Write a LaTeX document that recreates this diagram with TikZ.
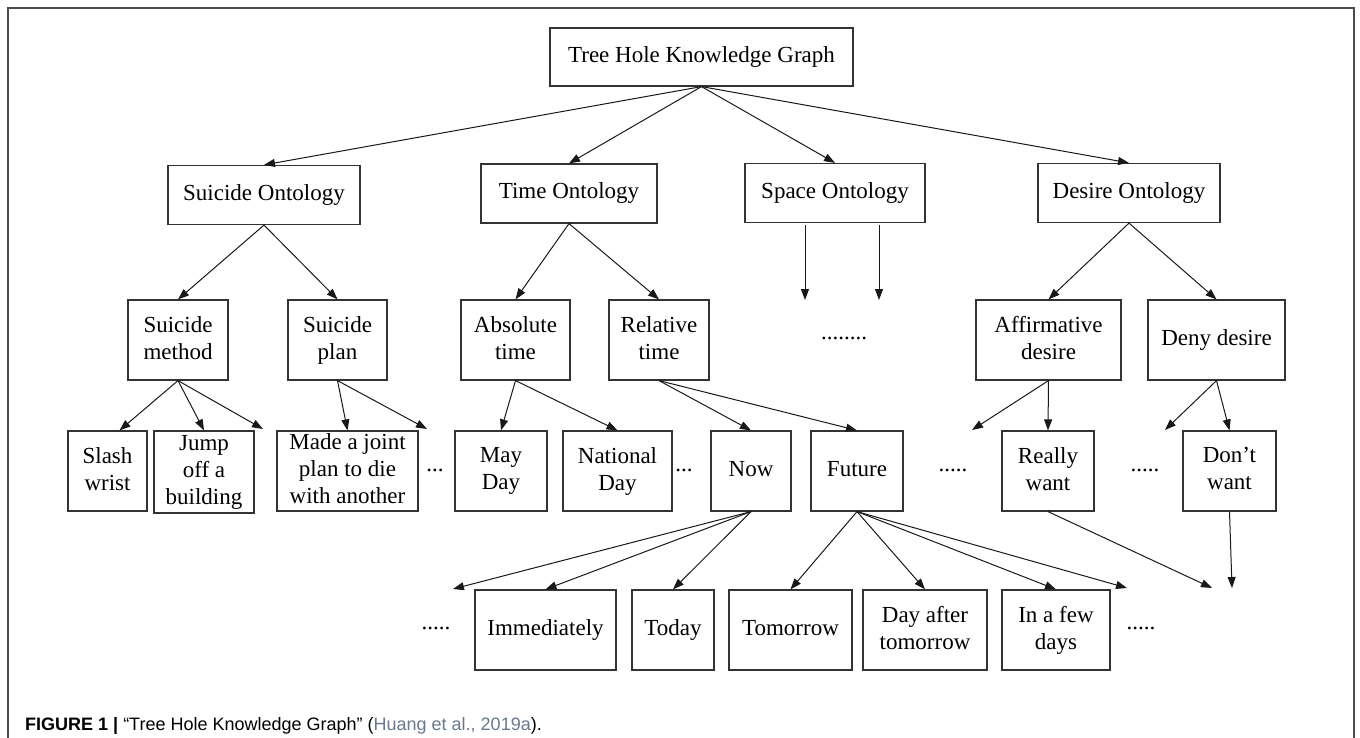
\documentclass[tikz,border=0pt]{standalone}
\usepackage{fontspec}
\setmainfont{Liberation Serif}
\newfontfamily\capfont{Liberation Sans}
\usetikzlibrary{arrows.meta}
\definecolor{capblue}{RGB}{105,120,140}
\begin{document}
\begin{tikzpicture}[x=1pt,y=-1pt,
  box/.style={draw=black!80,line width=1.2pt,align=center,inner sep=0pt,
    font=\fontsize{23}{27}\selectfont,execute at end node=\vphantom{p}},
  onto/.style={box,minimum height=59pt},
  leaf/.style={box,minimum height=80pt},
  dots/.style={inner sep=0pt,font=\fontsize{23}{27}\selectfont},
  arr/.style={draw=black!90,line width=1pt,-{Triangle[length=11pt,width=8pt]}}]
\useasboundingbox (0,0) rectangle (1360,738);
\draw[gray!60!black,line width=1.6pt] (8,745) -- (8,8) -- (1354,8) -- (1354,745);

\node[box,minimum width=303pt,minimum height=58pt] (root) at (701.5,57) {Tree Hole Knowledge Graph};
\node[onto,minimum width=192pt] (suiOnt) at (264,195) {Suicide Ontology};
\node[onto,minimum width=176pt] (timeOnt) at (569,193.5) {Time Ontology};
\node[onto,minimum width=180pt] (spaceOnt) at (835,193) {Space Ontology};
\node[onto,minimum width=182pt] (desireOnt) at (1129,193) {Desire Ontology};

\node[leaf,minimum width=100pt] (method) at (178,340) {Suicide\\method};
\node[leaf,minimum width=99pt] (plan) at (337.5,340) {Suicide\\plan};
\node[leaf,minimum width=109pt] (absolute) at (515.5,340) {Absolute\\time};
\node[leaf,minimum width=100pt] (relative) at (659,340) {Relative\\time};
\node[dots] (spaceDots) at (844,338) {........};
\node[leaf,minimum width=145pt] (affirm) at (1048.5,340) {Affirmative\\desire};
\node[leaf,minimum width=137pt] (deny) at (1216.5,340) {Deny desire};

\node[leaf,minimum width=79pt] (slash) at (107.5,471) {Slash\\wrist};
\node[leaf,minimum width=100pt,minimum height=82pt] (jump) at (204,472) {Jump\\off a\\building};
\node[leaf,minimum width=141pt] (made) at (347.5,471) {Made a joint\\plan to die\\with another};
\node[dots] (dotsA) at (435,470) {...};
\node[leaf,minimum width=92pt] (mayday) at (501,471) {May\\Day};
\node[leaf,minimum width=109pt] (national) at (617.5,471) {National\\Day};
\node[dots] (dotsB) at (684,470) {...};
\node[leaf,minimum width=80pt] (now) at (751,471) {Now};
\node[leaf,minimum width=92pt] (future) at (857,471) {Future};
\node[dots] (dotsC) at (953,470) {.....};
\node[leaf,minimum width=92pt] (really) at (1048,471) {Really\\want};
\node[dots] (dotsD) at (1145,470) {.....};
\node[leaf,minimum width=93pt] (dont) at (1229.5,471) {Don’t\\want};

\node[dots] (dotsE) at (436,628) {.....};
\node[leaf,minimum width=141pt] (immed) at (545.5,630) {Immediately};
\node[leaf,minimum width=82pt] (today) at (673,630) {Today};
\node[leaf,minimum width=123pt] (tomorrow) at (790.5,630) {Tomorrow};
\node[leaf,minimum width=124pt] (dayafter) at (925,630) {Day after\\tomorrow};
\node[leaf,minimum width=108pt] (fewdays) at (1056,630) {In a few\\days};
\node[dots] (dotsF) at (1141,628) {.....};

% free ends of the open branches
\coordinate (s1) at (805,300);
\coordinate (s2) at (879,300);
\coordinate (m1) at (263,429);
\coordinate (p1) at (427,429);
\coordinate (a1) at (972,430);
\coordinate (d1) at (1165,430);
\coordinate (n1) at (453,589);
\coordinate (f1) at (1127,588);
\coordinate (r1) at (1212,588);
\coordinate (w1) at (1232,588);

\foreach \x in {suiOnt,timeOnt,spaceOnt,desireOnt}
  \draw[arr] (root.south) -- (\x.north);
\draw[arr] ([xshift=-30pt,yshift=-2pt]spaceOnt.south) -- (s1);
\draw[arr] ([xshift=44pt,yshift=-2pt]spaceOnt.south) -- (s2);
\draw[arr] (suiOnt.south) -- (method.north);
\draw[arr] (suiOnt.south) -- (plan.north);
\draw[arr] (timeOnt.south) -- (absolute.north);
\draw[arr] (timeOnt.south) -- (relative.north);
\draw[arr] (desireOnt.south) -- (affirm.north);
\draw[arr] (desireOnt.south) -- (deny.north);

\draw[arr] (method.south) -- ([xshift=12pt]slash.north);
\draw[arr] (method.south) -- (jump.north);
\draw[arr] (method.south) -- (m1);
\draw[arr] (plan.south) -- (made.north);
\draw[arr] (plan.south) -- (p1);
\draw[arr] (absolute.south) -- (mayday.north);
\draw[arr] (absolute.south) -- (national.north);
\draw[arr] (relative.south) -- (now.north);
\draw[arr] (relative.south) -- (future.north);
\draw[arr] (affirm.south) -- (a1);
\draw[arr] (affirm.south) -- (really.north);
\draw[arr] (deny.south) -- (d1);
\draw[arr] (deny.south) -- (dont.north);

\draw[arr] (now.south) -- (n1);
\draw[arr] (now.south) -- (immed.north);
\draw[arr] (now.south) -- (today.north);
\foreach \x in {tomorrow,dayafter,fewdays}
  \draw[arr] (future.south) -- (\x.north);
\draw[arr] (future.south) -- (f1);
\draw[arr] (really.south) -- (r1);
\draw[arr] (dont.south) -- (w1);

\node[anchor=base west,inner sep=0pt,font=\capfont\fontsize{18}{20}\selectfont] (caption) at (25,730)
  {\textbf{FIGURE 1 |} “Tree Hole Knowledge Graph” (\textcolor{capblue}{Huang et al., 2019a}).};
\end{tikzpicture}
\end{document}
